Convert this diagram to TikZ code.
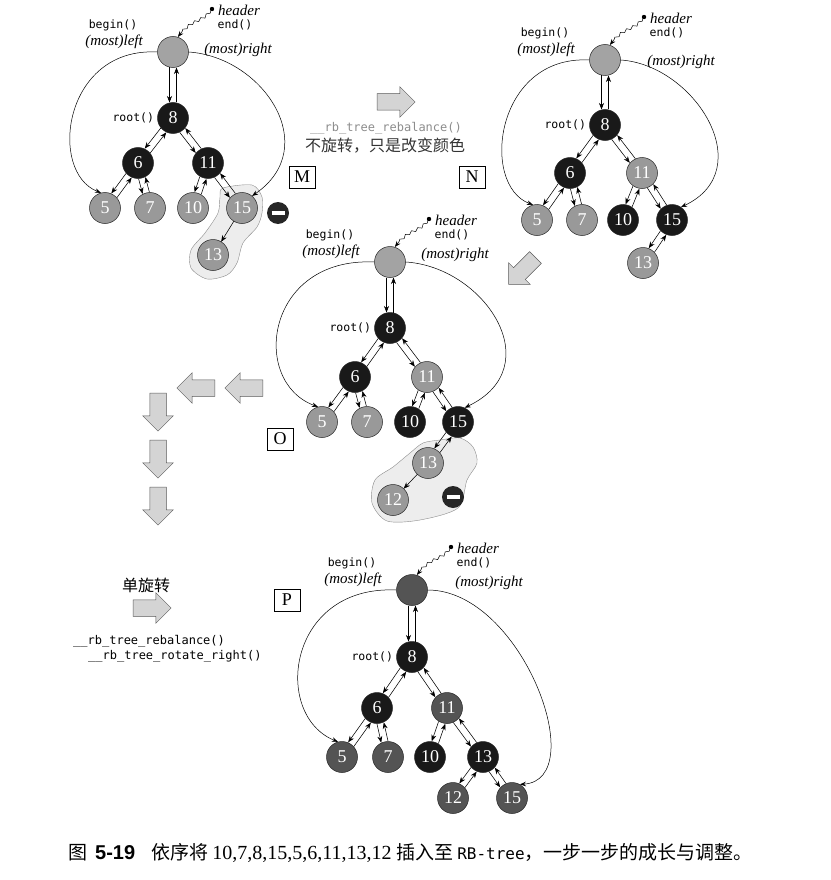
\documentclass[tikz,border=0pt]{standalone}
\usepackage{fontspec}
\setmainfont{Liberation Serif}
\setmonofont{DejaVu Sans Mono}
\newfontfamily\cjk{Noto Sans CJK SC}
\newfontfamily\capsf{Liberation Sans}
\usetikzlibrary{calc,positioning,arrows.meta,shapes.arrows,decorations.pathmorphing}

\definecolor{nodeblack}{gray}{0.1}
\definecolor{redgray}{gray}{0.6}
\definecolor{headgray}{gray}{0.64}
\definecolor{deepgray}{gray}{0.33}

\tikzset{
  tnode/.style={circle, minimum size=31pt, inner sep=0pt, draw=black!85, line width=0.5pt,
    text=white, font=\fontsize{18}{18}\selectfont},
  bnode/.style={tnode, fill=nodeblack},
  rnode/.style={tnode, fill=redgray},
  pnode/.style={tnode, fill=deepgray},
  hnode/.style={tnode, fill=headgray},
  link/.style={line width=0.55pt, shorten <=15.5pt, shorten >=15.5pt, -{Stealth[length=6.5pt,width=5pt]}},
  thread/.style={line width=0.5pt, -{Stealth[length=6pt,width=4.5pt]}},
  wavy/.style={thread, decorate, decoration={snake, amplitude=1.3pt, segment length=7pt, pre length=2pt, post length=6pt}},
  ital/.style={font=\fontsize{15}{15}\selectfont\itshape, inner sep=0pt},
  code/.style={font=\fontsize{11.5}{11.5}\selectfont\ttfamily, inner sep=0pt},
  fn/.style={font=\fontsize{12}{12}\selectfont\ttfamily, inner sep=0pt},
  hanzi/.style={font=\fontsize{16}{16}\selectfont\cjk, inner sep=0pt},
  blob/.style={fill=black!7, draw=black!45, line width=0.4pt},
  tag/.style={draw, line width=0.5pt, minimum width=26pt, minimum height=22pt, inner sep=2pt,
    font=\fontsize{18}{18}\selectfont},
  delmark/.style={circle, fill=black!85, text=white, minimum size=22pt, inner sep=0pt},
  bigarrow/.style={single arrow, draw=black!65, fill=black!17, line width=0.5pt,
    minimum height=38pt, inner sep=8pt, single arrow head extend=7pt},
}

% two opposite links between parent and child
\newcommand\duo[2]{%
  \draw[link] ($(#1)!3.5pt!-90:(#2)$) -- ($(#2)!3.5pt!90:(#1)$);
  \draw[link] ($(#2)!3.5pt!-90:(#1)$) -- ($(#1)!3.5pt!90:(#2)$);}
\newcommand\solo[2]{\draw[link] (#1.center) -- (#2.center);}

% header node with its labels
\newcommand\treehead[4]{%
  \node[#2] (#1h) at (0,0) {};
  \coordinate (#1dot) at (39,-43);
  \fill (#1dot) circle (2.2pt);
  \node[ital, anchor=west] (#1hdr) at (45,-42) {header};
  \node[code] (#1end) at (62,-27) {end()};
  \node[code] (#1beg) at (-60,-27) {begin()};
  \node[ital] (#1lft) at (-59,-10) {(most)left};
  \node[ital] (#1rgt) at (#3,#4) {(most)right};
  \draw[wavy] (#1dot) .. controls (30,-30) and (20,-36) .. (#1h.72);}

\begin{document}
\begin{tikzpicture}[x=1pt, y=-1pt]
  \useasboundingbox (0,0) rectangle (830,880);

  % tree M
  \begin{scope}[shift={(173,52)}]
    \path[blob] plot[smooth cycle] coordinates {(50,136) (79,133) (89,145) (89,161) (84,175) (70,191)
      (64,211) (54,223) (34,227) (18,216) (18,198) (32,181) (45,161) (47,145)};
    \treehead{M}{hnode}{65}{-2}
    \foreach \n/\x/\y/\s in {8/0/66/bnode, 6/-35/111/bnode, 11/35/111/bnode, 5/-68/156/rnode,
        7/-23/156/rnode, 10/20/156/rnode, 15/69/156/rnode, 13/40/203/rnode}
      \node[\s] (M\n) at (\x,\y) {\n};
    \node[code, left=3pt of M8] (Mroot) {root()};
    \foreach \a/\b in {h/8, 8/6, 8/11, 6/5, 6/7, 11/10, 11/15}
      {\duo{M\a}{M\b}}
    \solo{M15}{M13}
    \draw[thread] (Mh.west) .. controls (-110,-5) and (-125,120) .. (M5.105);
    \draw[thread] (Mh.east) .. controls (90,5) and (150,95) .. (M15.50);
    \node[delmark] (Mdel) at (105,161) {\rule{13pt}{4pt}};
  \end{scope}
  \node[tag] (Mtag) at (302,177) {M};

  % M -> N
  \node[bigarrow] (arrMN) at (392,102) {};
  \node[fn, text=black!45] (fnMN) at (386,128) {\_\_rb\_tree\_rebalance()};
  \node[hanzi, text=black!80] (txtMN) at (385,146) {不旋转，只是改变颜色};

  % tree N
  \begin{scope}[shift={(605,60)}]
    \treehead{N}{hnode}{76}{2}
    \foreach \n/\x/\y/\s in {8/0/65/bnode, 6/-35/113/bnode, 11/37/113/rnode, 5/-68/160/rnode,
        7/-23/160/rnode, 10/18/160/bnode, 15/67/160/bnode, 13/38/203/rnode}
      \node[\s] (N\n) at (\x,\y) {\n};
    \node[code, left=3pt of N8] (Nroot) {root()};
    \foreach \a/\b in {h/8, 8/6, 8/11, 6/5, 6/7, 11/10, 11/15, 15/13}
      {\duo{N\a}{N\b}}
    \draw[thread] (Nh.west) .. controls (-110,-5) and (-125,125) .. (N5.105);
    \draw[thread] (Nh.east) .. controls (90,5) and (155,110) .. (N15.55);
  \end{scope}
  \node[tag] (Ntag) at (472,177) {N};

  % N -> O
  \node[bigarrow, rotate=-135] (arrNO) at (525,268) {};

  % tree O
  \begin{scope}[shift={(390,262)}]
    \path[blob] plot[smooth cycle] coordinates {(50,178) (70,176) (83,185) (87,201) (77,218) (68,246)
      (30,258) (-3,259) (-18,241) (-15,218) (3,205) (20,191) (33,181)};
    \treehead{O}{hnode}{65}{-7}
    \foreach \n/\x/\y/\s in {8/0/66/bnode, 6/-35/115/bnode, 11/37/115/rnode, 5/-68/160/rnode,
        7/-23/160/rnode, 10/20/160/bnode, 15/68/160/bnode, 13/38/201/rnode, 12/3/238/rnode}
      \node[\s] (O\n) at (\x,\y) {\n};
    \node[code, left=3pt of O8] (Oroot) {root()};
    \foreach \a/\b in {h/8, 8/6, 8/11, 6/5, 6/7, 11/10, 11/15, 15/13}
      {\duo{O\a}{O\b}}
    \solo{O13}{O12}
    \draw[thread] (Oh.west) .. controls (-125,-5) and (-140,120) .. (O5.105);
    \draw[thread] (Oh.east) .. controls (95,5) and (160,105) .. (O15.65);
    \node[delmark] (Odel) at (63,235) {\rule{13pt}{4pt}};
  \end{scope}
  \node[tag] (Otag) at (280,439) {O};

  % O -> P
  \node[bigarrow, rotate=180] (arrO1) at (248,388) {};
  \node[bigarrow, rotate=180] (arrO2) at (200,388) {};
  \foreach \i/\y in {1/408, 2/455, 3/502}
    \node[bigarrow, rotate=-90] (arrD\i) at (158,\y) {};
  \node[hanzi] (txtP) at (146,585) {单旋转};
  \node[bigarrow] (arrP) at (148,608) {};
  \node[fn, anchor=west] (fnP1) at (73,641) {\_\_rb\_tree\_rebalance()};
  \node[fn, anchor=west] (fnP2) at (88,656) {\_\_rb\_tree\_rotate\_right()};

  % tree P
  \begin{scope}[shift={(412,590)}]
    \treehead{P}{pnode}{77}{-7}
    \foreach \n/\x/\y/\s in {8/0/67/bnode, 6/-35/118/bnode, 11/35/118/pnode, 5/-70/167/pnode,
        7/-24/167/pnode, 10/18/167/bnode, 13/71/167/bnode, 12/41/208/pnode, 15/100/208/pnode}
      \node[\s] (P\n) at (\x,\y) {\n};
    \node[code, left=3pt of P8] (Proot) {root()};
    \foreach \a/\b in {h/8, 8/6, 8/11, 6/5, 6/7, 11/10, 11/13, 13/12, 13/15}
      {\duo{P\a}{P\b}}
    \draw[thread] (Ph.west) .. controls (-125,-5) and (-140,125) .. (P5.105);
    \draw[thread] (Ph.east) .. controls (110,0) and (180,190) .. (P15.60);
  \end{scope}
  \node[tag] (Ptag) at (287,600) {P};

  % caption
  \node[anchor=west, inner sep=0pt] (caption) at (68,853) {\fontsize{19}{19}\selectfont\cjk
    图\hspace{8pt}{\capsf\bfseries\fontsize{20}{20}\selectfont 5-19}\hspace{16pt}依序将
    {\rmfamily\fontsize{20}{20}\selectfont 10,7,8,15,5,6,11,13,12} 插入至
    {\ttfamily\fontsize{16}{16}\selectfont RB-tree}，一步一步的成长与调整。};
\end{tikzpicture}
\end{document}
